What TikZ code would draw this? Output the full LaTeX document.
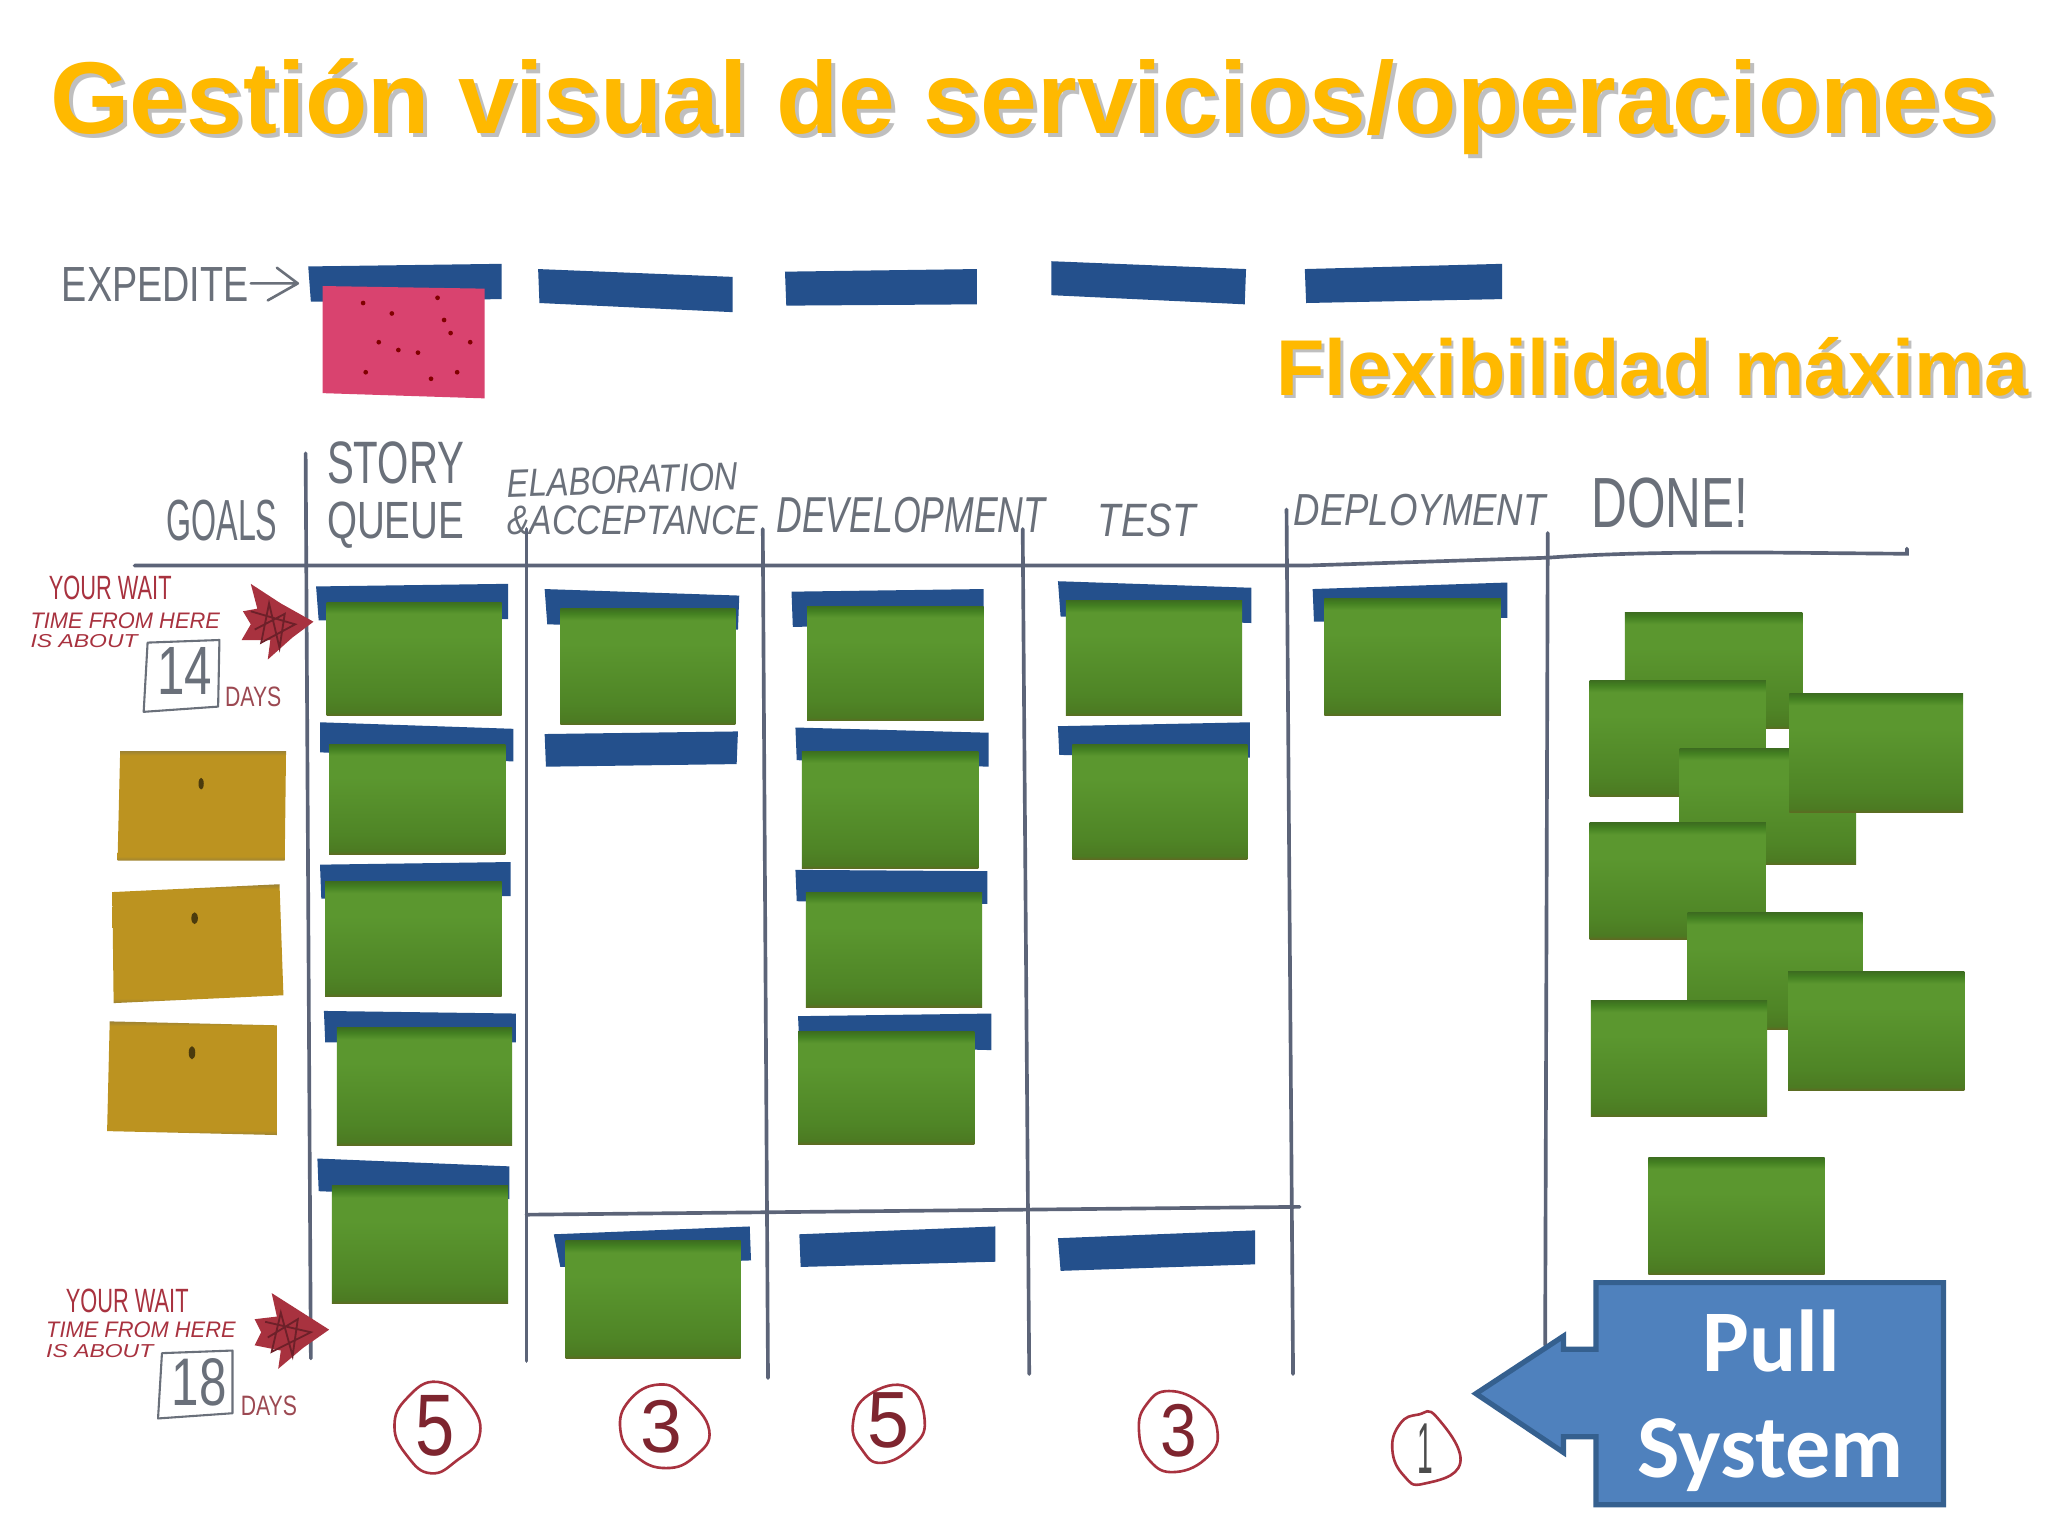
\documentclass[tikz,border=0pt]{standalone}
\usepackage{graphicx}
\usepackage{fontspec}
\setmainfont{Liberation Sans}
\newfontfamily\callfont{Carlito}
\newlength{\uu}\setlength{\uu}{0.5pt}
\definecolor{titlegold}{HTML}{FFB900}
\definecolor{tabblue}{HTML}{24508C}
\definecolor{linegray}{HTML}{5C6478}
\definecolor{handgray}{HTML}{6A707A}
\definecolor{handred}{HTML}{A8323F}
\definecolor{callblue}{HTML}{4F81BD}
\definecolor{callline}{HTML}{35608F}
\definecolor{pinkcard}{HTML}{D9436F}
\definecolor{gnbrown}{HTML}{5E6A22}
\definecolor{gnbottom}{HTML}{4C7A22}
\definecolor{gnlow}{HTML}{4F8526}
\definecolor{gnmid}{HTML}{5B972F}
\definecolor{gntop}{HTML}{438021}
\definecolor{gnedge}{HTML}{3D6E20}
\definecolor{yledge}{HTML}{9C8234}
\definecolor{ylbody}{HTML}{BC9320}
\pgfdeclareverticalshading{cardgreen}{100bp}{
  color(0bp)=(gnbrown);
  color(25bp)=(gnbrown);
  color(26.5bp)=(gnbottom);
  color(34bp)=(gnlow);
  color(60bp)=(gnmid);
  color(70bp)=(gnmid);
  color(73bp)=(gntop);
  color(75bp)=(gnedge);
  color(100bp)=(gnedge)}
\pgfdeclareverticalshading{cardyellow}{100bp}{
  color(0bp)=(yledge);
  color(25bp)=(yledge);
  color(27bp)=(ylbody);
  color(73bp)=(ylbody);
  color(75bp)=(yledge);
  color(100bp)=(yledge)}
\tikzset{
 x=0.5pt,y=-0.5pt,
 boardline/.style={draw=linegray,line width=1.4pt,line cap=round},
 cardshade/.style={shading=cardgreen},
 yellowcard/.style={shading=cardyellow},
 lab/.style={inner sep=0pt,anchor=base west},
 handlabel/.style={lab,text=handgray},
 redlabel/.style={lab,text=handred},
 redring/.style={draw=handred,line width=1pt},
 ringdigit/.style={lab,text=handred!75!black},
}
\newcommand{\fitw}[3]{\resizebox{#1\uu}{#2\uu}{#3}}
\newcommand{\bluetab}[4]{\fill[tabblue] #1 -- #2 -- #3 -- #4 -- cycle;}
\newcommand{\gcard}[4]{\path[cardshade] (#1,#2) rectangle (#3,#4);}
\begin{document}
\begin{tikzpicture}
\useasboundingbox (0,0) rectangle (1568,1176);
\fill[white] (0,0) rectangle (1568,1176);

% titles
\node[lab,text=black!45,opacity=.55] (titleshadow) at (41,105) {\resizebox{1490\uu}{!}{\bfseries Gestión visual de servicios/operaciones}};
\node[lab,text=titlegold] (title) at (38,102) {\resizebox{1490\uu}{!}{\bfseries Gestión visual de servicios/operaciones}};

% expedite row
\bluetab{(236,204)}{(384,202)}{(384,229)}{(238,231)}
\bluetab{(412,206)}{(561,212)}{(561,239)}{(413,232)}
\bluetab{(601,208)}{(748,206)}{(748,233)}{(602,234)}
\bluetab{(805,200)}{(954,206)}{(953,233)}{(805,226)}
\bluetab{(999,206)}{(1150,202)}{(1150,229)}{(1000,232)}
\fill[pinkcard] (247,219) -- (371,221) -- (371,305) -- (247,301) -- cycle;
\foreach \px/\py in {278/232,335/228,290/262,305/268,320/270,345/255,280/285,330/290,350/285,300/240,340/245,360/262}
  \fill[black!50!red] (\px,\py) circle (1.8);
\node[handlabel] (expedite) at (47,231) {\fitw{143}{26}{EXPEDITE}};
\coordinate (expa) at (192,217);
\coordinate (expb) at (228,217);
\draw[draw=handgray,line width=1pt,line cap=round,line join=round] (expa) -- (expb) (212,205) -- (expb) -- (205,230);

\node[lab,text=black!45,opacity=.55] (flexshadow) at (979,305) {\resizebox{576\uu}{!}{\bfseries Flexibilidad máxima}};
\node[lab,text=titlegold] (flex) at (977,303) {\resizebox{576\uu}{!}{\bfseries Flexibilidad máxima}};

% headers
\node[handlabel] (goals) at (127,414) {\fitw{85}{31}{GOALS}};
\node[handlabel] (story) at (250,370) {\fitw{105}{32}{STORY}};
\node[handlabel] (queue) at (250,412) {\fitw{105}{28}{QUEUE}};
\node[handlabel,rotate=2] (elab) at (388,381) {\fitw{177}{21}{\itshape ELABORATION}};
\node[handlabel] (accept) at (388,409) {\fitw{192}{22}{\itshape \&ACCEPTANCE}};
\node[handlabel] (dev) at (594,408) {\fitw{206}{27}{\itshape DEVELOPMENT}};
\node[handlabel] (test) at (840,411) {\fitw{75}{25}{\itshape TEST}};
\node[handlabel] (deploy) at (990,402) {\fitw{193}{24}{\itshape DEPLOYMENT}};
\node[handlabel] (done) at (1218,404) {\fitw{120}{38}{DONE!}};

% board lines
\draw[boardline] (234,347) -- (238,1040);
\draw[boardline] (403,405) -- (403,1042);
\draw[boardline] (584,405) -- (588,1055);
\draw[boardline] (783,405) -- (788,1052);
\draw[boardline] (985,390) -- (990,1052);
\draw[boardline] (1185,408) -- (1183,1030);
\draw[boardline] (103,433) -- (1000,433) -- (1185,427) .. controls (1240,423) and (1300,423) .. (1350,423) -- (1460,424) -- (1460,420);
\draw[boardline] (403,930) -- (995,924);

% story queue
\bluetab{(242,449)}{(389,447)}{(389,474)}{(244,475)} \gcard{250}{461}{384}{548}
\bluetab{(245,553)}{(393,558)}{(393,583)}{(245,576)} \gcard{252}{570}{387}{654}
\bluetab{(245,662)}{(391,660)}{(391,686)}{(246,688)} \gcard{249}{675}{384}{763}
\bluetab{(248,774)}{(395,776)}{(395,798)}{(249,798)} \gcard{258}{787}{392}{877}
\bluetab{(243,887)}{(390,893)}{(390,918)}{(244,912)} \gcard{254}{908}{389}{998}
% elaboration
\bluetab{(417,451)}{(566,456)}{(565,482)}{(419,478)} \gcard{429}{466}{563}{555}
\bluetab{(417,562)}{(565,560)}{(564,585)}{(418,587)}
\bluetab{(424,945)}{(574,939)}{(575,965)}{(429,970)} \gcard{433}{950}{567}{1040}
% development
\bluetab{(606,453)}{(753,451)}{(753,477)}{(607,480)} \gcard{618}{464}{753}{552}
\bluetab{(609,557)}{(757,561)}{(757,587)}{(610,582)} \gcard{614}{575}{749}{665}
\bluetab{(609,666)}{(756,667)}{(756,692)}{(610,690)} \gcard{617}{683}{752}{771}
\bluetab{(611,778)}{(759,776)}{(759,804)}{(612,800)} \gcard{611}{790}{746}{876}
\bluetab{(612,945)}{(762,939)}{(762,966)}{(613,970)}
% test
\bluetab{(810,445)}{(958,450)}{(958,477)}{(812,472)} \gcard{816}{460}{951}{548}
\bluetab{(810,556)}{(957,553)}{(957,580)}{(811,578)} \gcard{821}{570}{955}{658}
\bluetab{(810,948)}{(961,942)}{(961,968)}{(812,973)}
% deployment
\bluetab{(1005,451)}{(1154,446)}{(1154,473)}{(1006,476)} \gcard{1014}{458}{1149}{548}
% done
\gcard{1244}{469}{1380}{558}
\gcard{1217}{521}{1352}{610}
\gcard{1286}{573}{1421}{662}
\gcard{1370}{531}{1503}{622}
\gcard{1217}{630}{1352}{719}
\gcard{1292}{699}{1426}{788}
\gcard{1369}{744}{1504}{835}
\gcard{1218}{766}{1353}{855}
\gcard{1262}{886}{1397}{976}

% goals
\path[yellowcard] (92,575) -- (219,575) -- (218,659) -- (90,659) -- cycle;
\path[yellowcard] (86,683) -- (214,677) -- (217,762) -- (87,768) -- cycle;
\path[yellowcard] (84,782) -- (212,785) -- (212,869) -- (82,866) -- cycle;
\fill[black!60!ylbody] (154,600) ellipse (2 and 4.5) (149,703) ellipse (2.5 and 4.5) (147,806) ellipse (2.5 and 5);

% wait time, top
\node[redlabel] (waitA) at (37,459) {\fitw{94}{18}{YOUR WAIT}};
\node[redlabel] (timeA) at (23,481) {\fitw{145}{12}{\itshape TIME FROM HERE}};
\node[redlabel] (aboutA) at (23,496) {\fitw{82}{10}{\itshape IS ABOUT}};
\draw[draw=handgray,line width=.8pt,line join=round] (113,492) -- (168,490) -- (167,541) -- (110,545) -- cycle;
\node[handlabel] (numA) at (120,532) {\fitw{42}{36}{14}};
\node[handlabel,text=handred!70!gray] (daysA) at (172,541) {\fitw{43}{15}{DAYS}};
\fill[handred] (192,447) -- (215,462) -- (240,476) -- (224,488) -- (205,505) -- (207,490) -- (185,490) -- (192,478) -- (186,468) -- (197,466) -- cycle;
\draw[handred!65!black,line width=.7pt] (192,468) -- (226,478) -- (200,492) -- (206,462) -- (214,496) -- (218,470) -- (195,482);

% wait time, bottom
\node[redlabel] (waitB) at (50,1005) {\fitw{94}{18}{YOUR WAIT}};
\node[redlabel] (timeB) at (35,1024) {\fitw{145}{12}{\itshape TIME FROM HERE}};
\node[redlabel] (aboutB) at (35,1039) {\fitw{82}{10}{\itshape IS ABOUT}};
\draw[draw=handgray,line width=.8pt,line join=round] (124,1036) -- (178,1034) -- (178,1082) -- (121,1086) -- cycle;
\node[handlabel] (numB) at (131,1076) {\fitw{42}{36}{18}};
\node[handlabel,text=handred!70!gray] (daysB) at (184,1084) {\fitw{43}{15}{DAYS}};
\fill[handred] (208,990) -- (230,1004) -- (252,1018) -- (232,1032) -- (213,1048) -- (215,1034) -- (195,1030) -- (200,1020) -- (195,1010) -- (212,1008) -- cycle;
\draw[handred!65!black,line width=.7pt] (203,1012) -- (238,1020) -- (208,1035) -- (215,1005) -- (224,1038) -- (228,1010) -- (205,1024);

% WIP limits
\draw[redring] plot[smooth cycle,tension=.8] coordinates {(335,1058) (360,1075) (367,1100) (350,1118) (330,1128) (312,1115) (302,1092) (312,1070)};
\node[ringdigit] (limA) at (318,1114) {\fitw{30}{46}{5}};
\draw[redring] plot[smooth cycle,tension=.8] coordinates {(505,1060) (525,1070) (543,1095) (532,1115) (510,1124) (487,1115) (475,1095) (482,1072)};
\node[ringdigit] (limB) at (490,1112) {\fitw{32}{40}{3}};
\draw[redring] plot[smooth cycle,tension=.8] coordinates {(695,1062) (708,1088) (698,1108) (675,1120) (660,1110) (653,1090) (665,1068)};
\node[ringdigit] (limC) at (664,1108) {\fitw{32}{42}{5}};
\draw[redring] plot[smooth cycle,tension=.8] coordinates {(895,1065) (920,1075) (932,1095) (925,1115) (900,1127) (880,1118) (872,1095) (878,1075)};
\node[ringdigit] (limD) at (888,1115) {\fitw{28}{40}{3}};
\draw[redring] plot[smooth cycle,tension=.8] coordinates {(1086,1083) (1100,1085) (1118,1120) (1090,1136) (1075,1130) (1066,1110) (1072,1090)};
\node[lab,text=black!70] (limE) at (1085,1128) {\fitw{12}{38}{1}};

% pull system callout
\draw[fill=callblue,draw=callline,line width=2pt,line join=miter]
  (1222,982) -- (1488,982) -- (1488,1152) -- (1222,1152) -- (1222,1100) -- (1197,1100) -- (1197,1112) -- (1130,1067) -- (1197,1023) -- (1197,1033) -- (1222,1033) -- cycle;
\node[lab,text=white] (pull) at (1303,1050) {\resizebox{105\uu}{!}{\callfont\bfseries Pull}};
\node[lab,text=white] (system) at (1253,1131) {\resizebox{204\uu}{!}{\callfont\bfseries System}};
\end{tikzpicture}
\end{document}
